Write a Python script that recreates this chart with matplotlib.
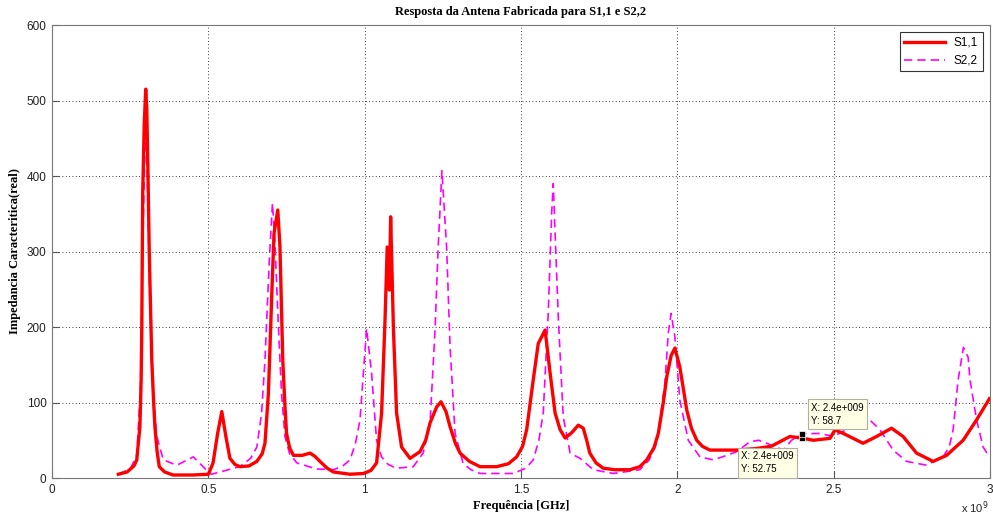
import numpy as np
import matplotlib.pyplot as plt

# S1,1 (frequency in GHz, real impedance)
f_s11 = [0.212, 0.24, 0.262, 0.271, 0.281, 0.285, 0.287, 0.290, 0.295, 0.2996,
         0.303, 0.307, 0.311, 0.319, 0.325, 0.329, 0.336, 0.343, 0.36, 0.387,
         0.45, 0.50, 0.515, 0.53, 0.543, 0.556, 0.569, 0.585, 0.601, 0.63,
         0.655, 0.672, 0.681, 0.692, 0.703, 0.710, 0.722, 0.729, 0.738, 0.745,
         0.750, 0.760, 0.772, 0.80, 0.825, 0.840, 0.857, 0.880, 0.900, 0.953,
         0.996, 1.020, 1.038, 1.054, 1.065, 1.072, 1.079, 1.083, 1.092, 1.102,
         1.118, 1.145, 1.177, 1.195, 1.209, 1.230, 1.244, 1.260, 1.273, 1.290,
         1.305, 1.335, 1.369, 1.422, 1.460, 1.486, 1.505, 1.518, 1.539, 1.555,
         1.577, 1.593, 1.609, 1.625, 1.641, 1.662, 1.683, 1.699, 1.710, 1.720,
         1.740, 1.763, 1.800, 1.848, 1.880, 1.902, 1.925, 1.939, 1.955, 1.966,
         1.980, 1.992, 2.008, 2.030, 2.045, 2.062, 2.080, 2.104, 2.158, 2.19,
         2.25, 2.30, 2.36, 2.40, 2.435, 2.488, 2.504, 2.531, 2.594, 2.637,
         2.685, 2.722, 2.765, 2.818, 2.861, 2.914, 2.957, 2.998]
s11 = [5, 8, 16, 24, 68, 130, 196, 377, 470, 515,
       490, 400, 298, 156, 100, 68, 35, 15, 8, 4,
       4, 5, 20, 60, 88, 55, 26, 18, 15, 16,
       22, 32, 46, 112, 245, 324, 355, 306, 156, 95,
       59, 40, 30, 30, 33, 29, 22, 13, 8, 5,
       6, 10, 20, 86, 209, 306, 249, 346, 196, 86,
       41, 26, 35, 50, 73, 94, 101, 88, 68, 46,
       33, 22, 15, 15, 19, 28, 42, 64, 130, 178,
       196, 139, 86, 64, 53, 60, 70, 66, 50, 33,
       20, 13, 11, 11, 15, 24, 40, 59, 100, 134,
       162, 172, 147, 90, 66, 50, 42, 37, 37, 37,
       39, 42, 55, 52.75, 50, 52.5, 63.6, 59, 46, 55,
       66, 55, 33, 22, 30, 50, 77, 105]

# S2,2
f_s22 = [0.212, 0.25, 0.271, 0.283, 0.290, 0.298, 0.305, 0.312, 0.322, 0.335,
         0.356, 0.399, 0.452, 0.50, 0.51, 0.60, 0.635, 0.655, 0.670, 0.681,
         0.695, 0.705, 0.713, 0.724, 0.734, 0.745, 0.760, 0.783, 0.846, 0.90,
         0.930, 0.953, 0.970, 0.985, 1.006, 1.022, 1.038, 1.054, 1.075, 1.102,
         1.155, 1.187, 1.209, 1.225, 1.235, 1.247, 1.262, 1.273, 1.289, 1.315,
         1.340, 1.369, 1.475, 1.515, 1.539, 1.557, 1.571, 1.587, 1.598, 1.603,
         1.619, 1.635, 1.657, 1.689, 1.731, 1.795, 1.880, 1.910, 1.934, 1.960,
         1.971, 1.980, 1.992, 2.008, 2.035, 2.072, 2.115, 2.158, 2.19, 2.232,
         2.26, 2.286, 2.339, 2.365, 2.40, 2.456, 2.499, 2.541, 2.605, 2.648,
         2.690, 2.733, 2.797, 2.850, 2.870, 2.882, 2.898, 2.915, 2.93, 2.936,
         2.957, 2.978, 2.998]
s22 = [5, 12, 30, 120, 300, 465, 400, 250, 120, 55,
       24, 17, 28, 8, 5, 15, 26, 41, 85, 156,
       289, 364, 311, 200, 112, 55, 32, 20, 12, 11,
       16, 24, 45, 77, 198, 139, 50, 28, 18, 13,
       15, 33, 73, 196, 306, 407, 306, 174, 59, 19,
       11, 6, 6, 13, 24, 50, 86, 218, 351, 390,
       214, 81, 33, 26, 11, 6, 11, 24, 46, 125,
       192, 218, 187, 103, 50, 28, 24, 30, 35, 48,
       50, 46, 37, 50, 58.7, 59, 55, 64, 81, 64,
       37, 22, 17, 28, 42, 64, 130, 173, 160, 130,
       77, 41, 28]

tip_x = 2.4
tip_s11 = 52.75
tip_s22 = 58.7

fig = plt.figure(figsize=(9.93, 5.17), dpi=100)
ax = fig.add_axes([0.0524, 0.0754, 0.9446, 0.8762])

ax.plot(f_s11, s11, color='red', lw=2.4, label='S1,1', zorder=3)
ax.plot(f_s22, s22, color='magenta', lw=1.2, ls=(0, (5, 3)), label='S2,2', zorder=2)

ax.set_xlim(0, 3)
ax.set_ylim(0, 600)
ax.set_xticks(np.arange(0, 3.01, 0.5))
ax.set_xticklabels(['0', '0.5', '1', '1.5', '2', '2.5', '3'])
ax.set_yticks(np.arange(0, 601, 100))
ax.tick_params(direction='in', length=5, labelsize=8.5, colors='#555555',
               labelcolor='#222222', pad=4)
for s in ax.spines.values():
    s.set_color('#777777')
ax.grid(True, color='black', ls=(0, (1, 3)), lw=0.6)

serif = {'family': 'Liberation Serif', 'weight': 'bold', 'size': 9}
ax.set_title('Resposta da Antena Fabricada para S1,1 e S2,2', fontdict=serif, pad=7)
ax.set_xlabel('Frequência [GHz]', fontdict=serif, labelpad=3)
ax.set_ylabel('Impedancia Caracteritica(real)', fontdict=serif, labelpad=4)
for lbl in ax.get_xticklabels() + ax.get_yticklabels():
    lbl.set_family('Liberation Sans')

fig.text(0.968, 0.008, r'x 10$^{9}$', fontsize=8, family='Liberation Sans', color='#222222')

leg = ax.legend(loc='upper right', frameon=True, fancybox=False,
                edgecolor='black', handlelength=3.4, borderaxespad=0.6,
                prop={'family': 'Liberation Sans', 'size': 8.5})
leg.get_frame().set_linewidth(0.8)

# data tips
ax.plot([tip_x, tip_x], [tip_s11, tip_s22], 's', color='black', ms=5, zorder=5,
        markeredgecolor='white', markeredgewidth=0.5)
tip_box = dict(boxstyle='square,pad=0.35', fc='#ffffe6', ec='#b0b0a0', lw=0.8)
ax.text(2.205, 5, 'X: 2.4e+009\nY: 52.75', fontsize=7, family='Liberation Sans',
        va='bottom', ha='left', bbox=tip_box, zorder=6, linespacing=1.4)
ax.text(2.428, 69, 'X: 2.4e+009\nY: 58.7', fontsize=7, family='Liberation Sans',
        va='bottom', ha='left', bbox=tip_box, zorder=6, linespacing=1.4)

fig.savefig('out.png', dpi=100)
